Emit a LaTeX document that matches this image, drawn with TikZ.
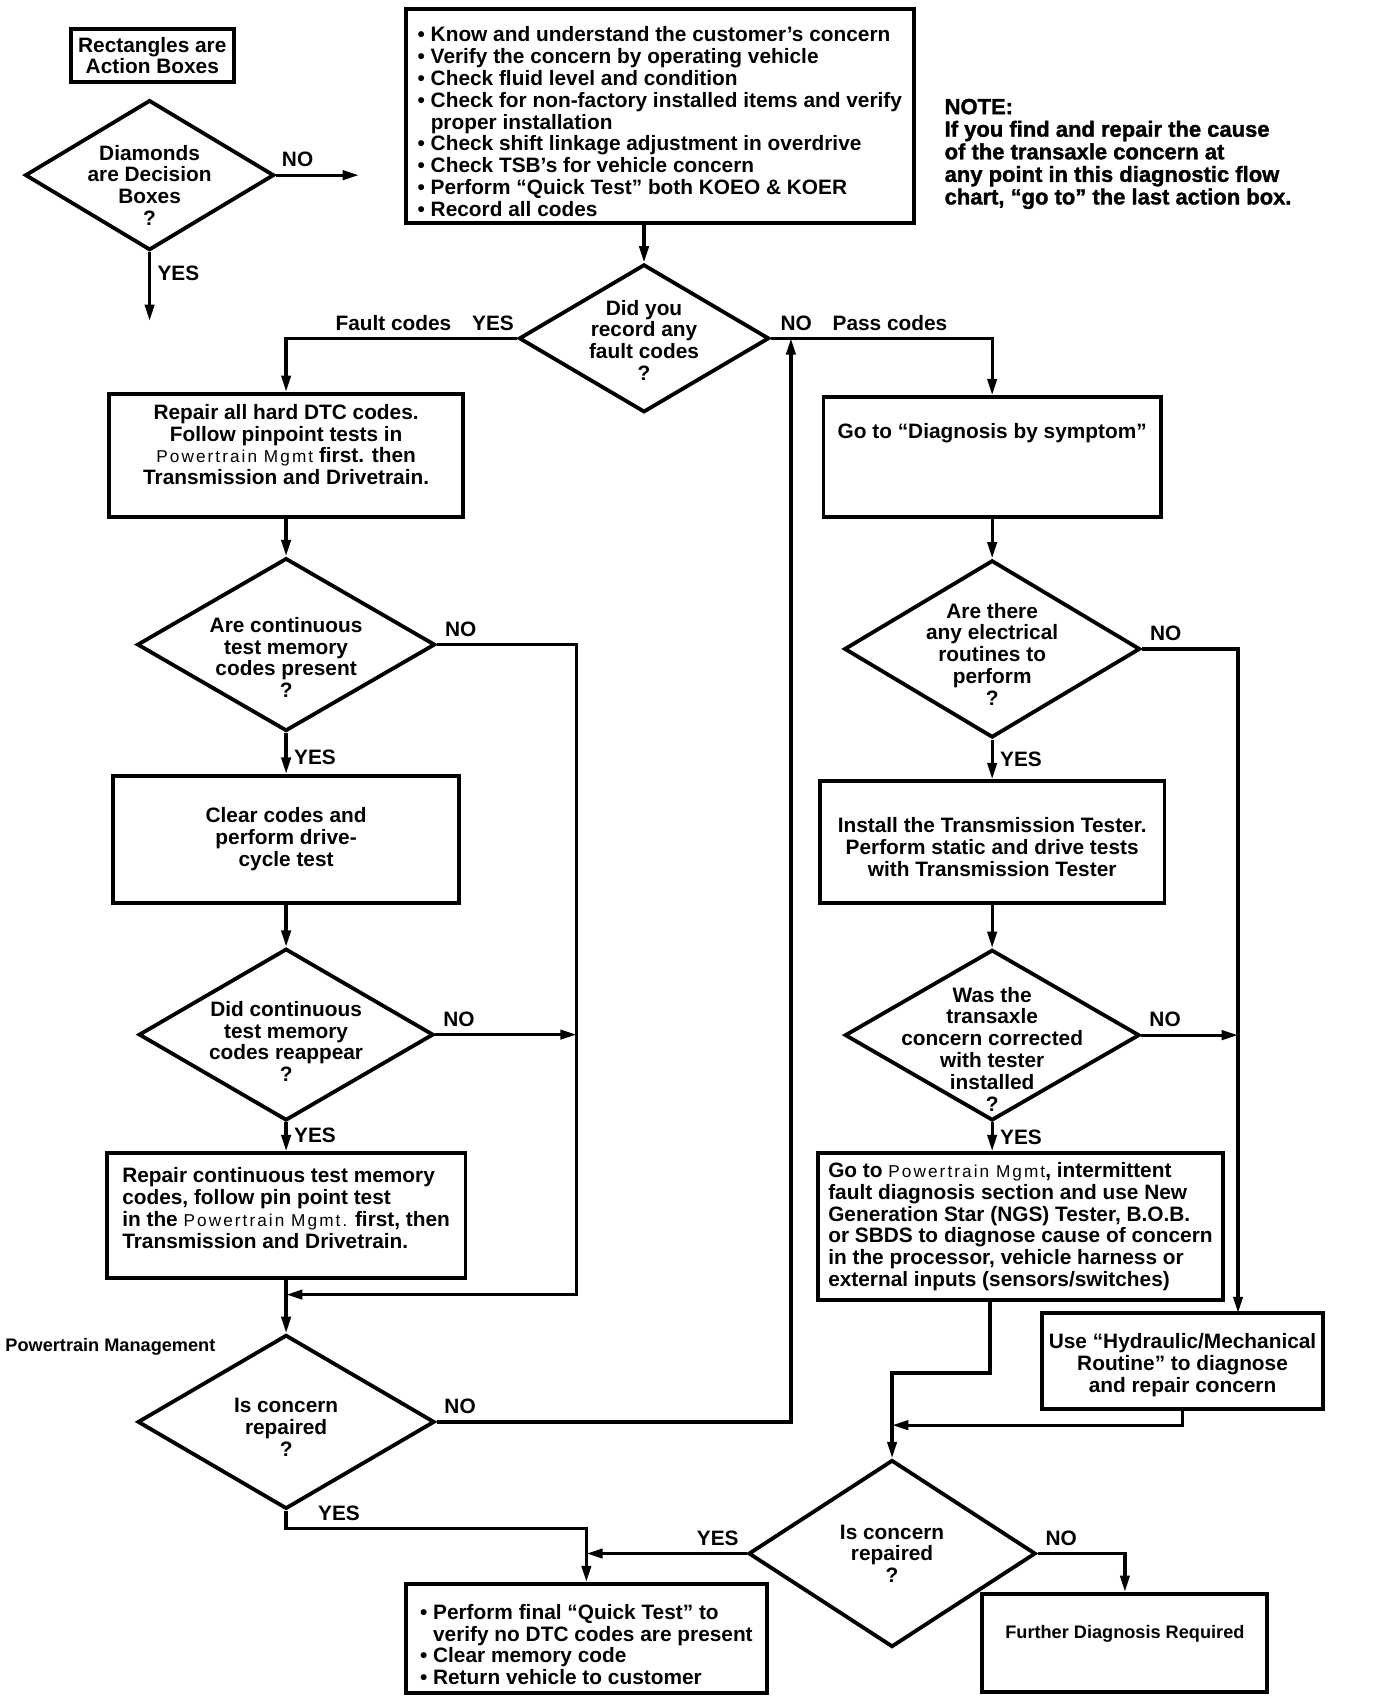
\documentclass[tikz,border=0pt]{standalone}
\usepackage{fontspec}
\setsansfont{Liberation Sans}
\usetikzlibrary{arrows.meta, shapes.geometric}
\tikzstyle{action} = [
  rectangle,
  draw=black, line width=2pt,
  text centered, align=center,
  inner sep=2pt
]
\tikzstyle{actionleft} = [action, align=left]
\tikzstyle{decision} = [
  diamond,
  draw=black, line width=2pt,
  inner sep=0pt
]
\tikzset{
  arrow/.style={
    line width=1.7pt,
    -{Triangle[length=3mm,width=1.7mm]}
  }
}
% text inside a diamond, shifted down by #1
\newcommand{\dtext}[2][4.3pt]{%
  \raisebox{-#1}[0pt][0pt]{\makebox[0pt]{\begin{tabular}{@{}c@{}}#2\end{tabular}}}}
% pasted-in smaller text
\newcommand{\ptmgmt}[1]{{\mdseries\fontsize{9}{11}\selectfont\addfontfeatures{LetterSpace=12}#1}}
% extra room above / below the text of a box
\newcommand{\topgap}[1]{\rule{0pt}{#1}}
\newcommand{\botgap}[1]{\rule[-#1]{0pt}{#1}}

\begin{document}
\begin{tikzpicture}[
  x=0.02cm, y=-0.02cm,
  font=\sffamily\bfseries\fontsize{10.9}{11.4}\selectfont
]
\useasboundingbox (0,0) rectangle (1279.5,1570);

% ------------------------------------------------
% LEYENDA
% ------------------------------------------------

% n1: rectangles
\node[action, minimum width=3cm, minimum height=0.96cm] (n1) at (140,51) {%
  Rectangles are\\
  Action Boxes
};

% n2: diamonds
\node[decision, minimum width=4.58cm, minimum height=2.76cm] (n2) at (137.5,161) {%
  \dtext[9.7pt]{Diamonds\\are Decision\\Boxes\\?}};

\coordinate (c1) at (330,161);
\coordinate (c2) at (137.5,295);

% ------------------------------------------------
% ARRIBA
% ------------------------------------------------

% n3: first checks
\node[actionleft, minimum width=9.34cm, minimum height=3.94cm] (n3) at (606.5,106.5) {%
  \topgap{13.9pt}\textbullet\ Know and understand the customer’s concern\\
  \textbullet\ Verify the concern by operating vehicle\\
  \textbullet\ Check fluid level and condition\\
  \textbullet\ Check for non-factory installed items and verify\\
  \phantom{\textbullet\ }proper installation\\
  \textbullet\ Check shift linkage adjustment in overdrive\\
  \textbullet\ Check TSB’s for vehicle concern\\
  \textbullet\ Perform “Quick Test” both KOEO \& KOER\\
  \textbullet\ Record all codes
};

% n20: note
\node[anchor=west, inner sep=0pt, align=left,
  font=\sffamily\bfseries\fontsize{11.5}{11.8}\selectfont\addfontfeatures{FakeBold=1.5}] (n20) at (868,141.5) {%
  NOTE:\\
  If you find and repair the cause\\
  of the transaxle concern at\\
  any point in this diagnostic flow\\
  chart, “go to” the last action box.
};

% n4: fault codes?
\node[decision, minimum width=4.6cm, minimum height=2.72cm] (n4) at (592,311) {%
  \dtext[5.4pt]{Did you\\record any\\fault codes\\?}};

% ------------------------------------------------
% COLUMNA IZQUIERDA
% ------------------------------------------------

% n5: hard DTC codes
\node[action, minimum width=6.5cm, minimum height=2.26cm] (n5) at (263,418.5) {%
  Repair all hard DTC codes.\\
  Follow pinpoint tests in\\
  \ptmgmt{Powertrain Mgmt} first. then\\
  Transmission and Drivetrain.\botgap{11.4pt}
};

% n7: continuous codes?
\node[decision, minimum width=5.48cm, minimum height=3.18cm] (n7) at (263,592.5) {%
  \dtext[11.1pt]{Are continuous\\test memory\\codes present\\?}};

% n8: clear codes
\node[action, minimum width=6.36cm, minimum height=2.34cm] (n8) at (263,771.5) {%
  Clear codes and\\
  perform drive-\\
  cycle test
};

% n9: reappear?
\node[decision, minimum width=5.42cm, minimum height=3.16cm] (n9) at (263,951) {%
  \dtext[8pt]{Did continuous\\test memory\\codes reappear\\?}};

% n10: repair continuous codes
\node[actionleft, minimum width=6.6cm, minimum height=2.3cm] (n10) at (263,1117.5) {%
  Repair continuous test memory\\
  codes, follow pin point test\\
  in the \ptmgmt{Powertrain Mgmt.} first, then\\
  Transmission and Drivetrain.\botgap{8pt}
};

% n21: side note
\node[font=\sffamily\bfseries\fontsize{9.5}{11}\selectfont] (n21) at (101.5,1238) {Powertrain Management};

% n11: repaired? (left)
\node[decision, minimum width=5.46cm, minimum height=3.2cm] (n11) at (263,1307) {%
  \dtext[7.1pt]{Is concern\\repaired\\?}};

% ------------------------------------------------
% COLUMNA DERECHA
% ------------------------------------------------

% n6: symptom
\node[action, minimum width=6.2cm, minimum height=2.2cm,
  inner ysep=0pt, text height=0.76cm, text depth=1.44cm] (n6) at (912,420) {%
  Go to “Diagnosis by symptom”};

% n12: electrical routines?
\node[decision, minimum width=5.44cm, minimum height=3.26cm] (n12) at (912,596.5) {%
  \dtext[7.1pt]{Are there\\any electrical\\routines to\\perform\\?}};

% n13: tester
\node[action, minimum width=6.34cm, minimum height=2.24cm] (n13) at (912,774) {%
  \topgap{13pt}Install the Transmission Tester.\\
  Perform static and drive tests\\
  with Transmission Tester
};

% n14: corrected with tester?
\node[decision, minimum width=5.42cm, minimum height=3.14cm] (n14) at (912,951.5) {%
  \dtext[11.7pt]{Was the\\transaxle\\concern corrected\\with tester\\installed\\?}};

% n15: intermittent
\node[actionleft, minimum width=7.44cm, minimum height=2.7cm] (n15) at (938,1127.5) {%
  Go to \ptmgmt{Powertrain Mgmt}, intermittent\\
  fault diagnosis section and use New\\
  Generation Star (NGS) Tester, B.O.B.\\
  or SBDS to diagnose cause of concern\\
  in the processor, vehicle harness or\\
  external inputs (sensors/switches)
};

% n16: hydraulic / mechanical
\node[action, minimum width=5.16cm, minimum height=1.76cm] (n16) at (1087,1251) {%
  \topgap{12.5pt}Use “Hydraulic/Mechanical\\
  Routine” to diagnose\\
  and repair concern
};

% n17: repaired? (right)
\node[decision, minimum width=5.28cm, minimum height=3.44cm] (n17) at (820,1428) {%
  \dtext[4.3pt]{Is concern\\repaired\\?}};

% ------------------------------------------------
% ABAJO
% ------------------------------------------------

% n18: last action box
\node[actionleft, minimum width=6.64cm, minimum height=2cm] (n18) at (539,1506) {%
  \topgap{14.3pt}\textbullet\ Perform final “Quick Test” to\\
  \phantom{\textbullet\ }verify no DTC codes are present\\
  \textbullet\ Clear memory code\\
  \textbullet\ Return vehicle to customer
};

% n19: further diagnosis
\node[action, minimum width=5.24cm, minimum height=1.8cm,
  inner ysep=0pt, text height=0.82cm, text depth=0.98cm,
  font=\sffamily\bfseries\fontsize{9.5}{11}\selectfont] (n19) at (1034,1510) {%
  Further Diagnosis Required};

% puntos de union
\coordinate (j1) at (530,1190);
\coordinate (j2) at (727,311);
\coordinate (j3) at (263,1405);
\coordinate (j4) at (1138,1207);
\coordinate (j5) at (910,1262);
\coordinate (j6) at (820,1310);

% ------------------------------------------------
% FLECHAS
% ------------------------------------------------

% leyenda
\draw[arrow] (n2.east) -- node[above, pos=0.26]{NO} (c1);
\draw[arrow] (n2.south) -- node[right, pos=0.31]{YES} (c2);

% arriba
\draw[arrow] (n3.south -| n4.north) -- (n4.north);
\draw[arrow] (n4.west) -| node[above, pos=0.2]{Fault codes\quad YES} (n5.north);
\draw[arrow] (n4.east) -| node[above, pos=0.21]{NO\quad Pass codes} (n6.north);

% columna izquierda
\draw[arrow] (n5.south) -- (n7.north);
\draw[arrow] (n7.south) -- node[right, pos=0.6]{YES} (n8.north);
\draw[arrow] (n7.east) node[above right]{NO} -| (j1) -- (j1 -| n10.south);
\draw[arrow] (n8.south) -- (n9.north);
\draw[arrow] (n9.east) node[above right]{NO} -- (n9.east -| j1);
\draw[arrow] (n9.south) -- node[right, pos=0.45]{YES} (n10.north);
\draw[arrow] (n10.south) -- (n11.north);
\draw[arrow] (n11.east) node[above right]{NO} -| (j2);
\draw[arrow] (n11.south) -- (j3) -| node[above right, pos=0.04]{YES} (n18.north);

% columna derecha
\draw[arrow] (n6.south) -- (n12.north);
\draw[arrow] (n12.east) node[above right]{NO} -| (j4);
\draw[arrow] (n12.south) -- node[right, pos=0.5]{YES} (n13.north);
\draw[arrow] (n13.south) -- (n14.north);
\draw[arrow] (n14.east) node[above right]{NO} -- (n14.east -| j4);
\draw[arrow] (n14.south) -- node[right, pos=0.5]{YES} (n14.south |- n15.north);
\draw[arrow] (j5 |- n15.south) -- (j5) -| (n17.north);
\draw[arrow] (n16.south) |- (j6);

% abajo
\draw[arrow] (n17.west) node[above left]{YES} -- (n17.west -| n18.north);
\draw[arrow] (n17.east) node[above right]{NO} -| (n19.north);

\end{tikzpicture}
\end{document}
